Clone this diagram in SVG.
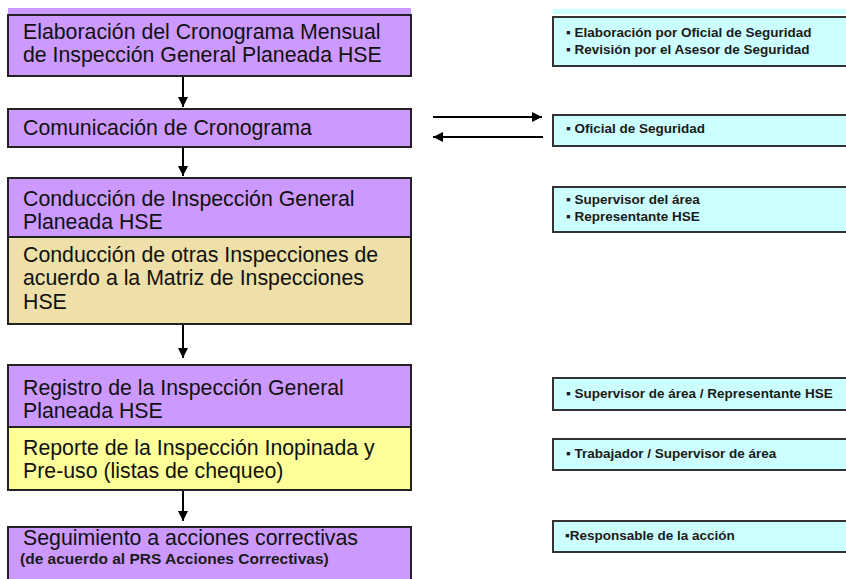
<svg xmlns="http://www.w3.org/2000/svg" width="846" height="579" viewBox="0 0 846 579">
<defs>
<style>
.p{fill:#CC99FF;stroke:#222;stroke-width:2}
.t{fill:#EFDFA8;stroke:#222;stroke-width:2}
.y{fill:#FFFF99;stroke:#222;stroke-width:2}
.c{fill:#CCFFFF;stroke:#333;stroke-width:2}
.L{font-family:"Liberation Sans",Arial,sans-serif;font-size:21.3px;fill:#111}
.S{font-family:"Liberation Sans",Arial,sans-serif;font-size:13.5px;font-weight:bold;fill:#1a1a1a}
.sm{font-family:"Liberation Sans",Arial,sans-serif;font-size:15.5px;font-weight:bold;fill:#1a1a1a}
.ln{stroke:#000;stroke-width:2;fill:none}
</style>
<marker id="ah" viewBox="0 0 10 10" refX="10" refY="5" markerWidth="5" markerHeight="5" orient="auto" markerUnits="strokeWidth">
<path d="M0,0 L10,5 L0,10 z" fill="#000"/>
</marker>
</defs>
<rect width="846" height="579" fill="#fff"/>
<rect x="8" y="8" width="403" height="6" fill="#CC99FF"/>
<rect x="553" y="9" width="300" height="5" fill="#CCFFFF"/>
<g id="n1"><rect class="p" x="8" y="15" width="403" height="61"/>
<text class="L" x="23" y="39">Elaboración del Cronograma Mensual</text>
<text class="L" x="23" y="62">de Inspección General Planeada HSE</text></g>
<g id="n2"><rect class="p" x="8" y="109" width="403" height="38"/>
<text class="L" x="23" y="135">Comunicación de Cronograma</text></g>
<g id="n3"><rect class="p" x="8" y="178" width="403" height="59"/>
<text class="L" x="23" y="206">Conducción de Inspección General</text>
<text class="L" x="23" y="229">Planeada HSE</text></g>
<g id="n3b"><rect class="t" x="8" y="237" width="403" height="87"/>
<text class="L" x="23" y="262">Conducción de otras Inspecciones de</text>
<text class="L" x="23" y="285">acuerdo a la Matriz de Inspecciones</text>
<text class="L" x="23" y="309">HSE</text></g>
<g id="n4"><rect class="p" x="8" y="365" width="403" height="62"/>
<text class="L" x="23" y="395">Registro de la Inspección General</text>
<text class="L" x="23" y="418">Planeada HSE</text></g>
<g id="n4b"><rect class="y" x="8" y="427" width="403" height="63"/>
<text class="L" x="23" y="455">Reporte de la Inspección Inopinada y</text>
<text class="L" x="23" y="478">Pre-uso (listas de chequeo)</text></g>
<g id="n5"><rect class="p" x="8" y="527" width="403" height="60"/>
<text class="L" x="23" y="545">Seguimiento a acciones correctivas</text>
<text class="sm" x="20" y="564">(de acuerdo al PRS Acciones Correctivas)</text></g>
<g id="rA"><rect class="c" x="553" y="17" width="300" height="49"/>
<text class="S" x="566" y="37">▪ Elaboración por Oficial de Seguridad</text>
<text class="S" x="566" y="54">▪ Revisión por el Asesor de Seguridad</text></g>
<g id="rB"><rect class="c" x="553" y="115" width="300" height="31"/>
<text class="S" x="566" y="133">▪ Oficial de Seguridad</text></g>
<g id="rC"><rect class="c" x="553" y="187" width="300" height="45"/>
<text class="S" x="566" y="204">▪ Supervisor del área</text>
<text class="S" x="566" y="221">▪ Representante HSE</text></g>
<g id="rD"><rect class="c" x="553" y="378" width="300" height="32"/>
<text class="S" x="566" y="398">▪ Supervisor de área / Representante HSE</text></g>
<g id="rE"><rect class="c" x="553" y="439" width="300" height="31"/>
<text class="S" x="566" y="458">▪ Trabajador / Supervisor de área</text></g>
<g id="rF"><rect class="c" x="553" y="521" width="300" height="31"/>
<text class="S" x="565" y="540">▪Responsable de la acción</text></g>
<g id="connectors">
<line class="ln" x1="183" y1="77" x2="183" y2="107" marker-end="url(#ah)"/>
<line class="ln" x1="183" y1="148" x2="183" y2="176" marker-end="url(#ah)"/>
<line class="ln" x1="183" y1="325" x2="183" y2="358" marker-end="url(#ah)"/>
<line class="ln" x1="183" y1="491" x2="183" y2="521" marker-end="url(#ah)"/>
<line class="ln" x1="433" y1="117" x2="542" y2="117" marker-end="url(#ah)"/>
<line class="ln" x1="543" y1="137" x2="433" y2="137" marker-end="url(#ah)"/>
</g>
</svg>
